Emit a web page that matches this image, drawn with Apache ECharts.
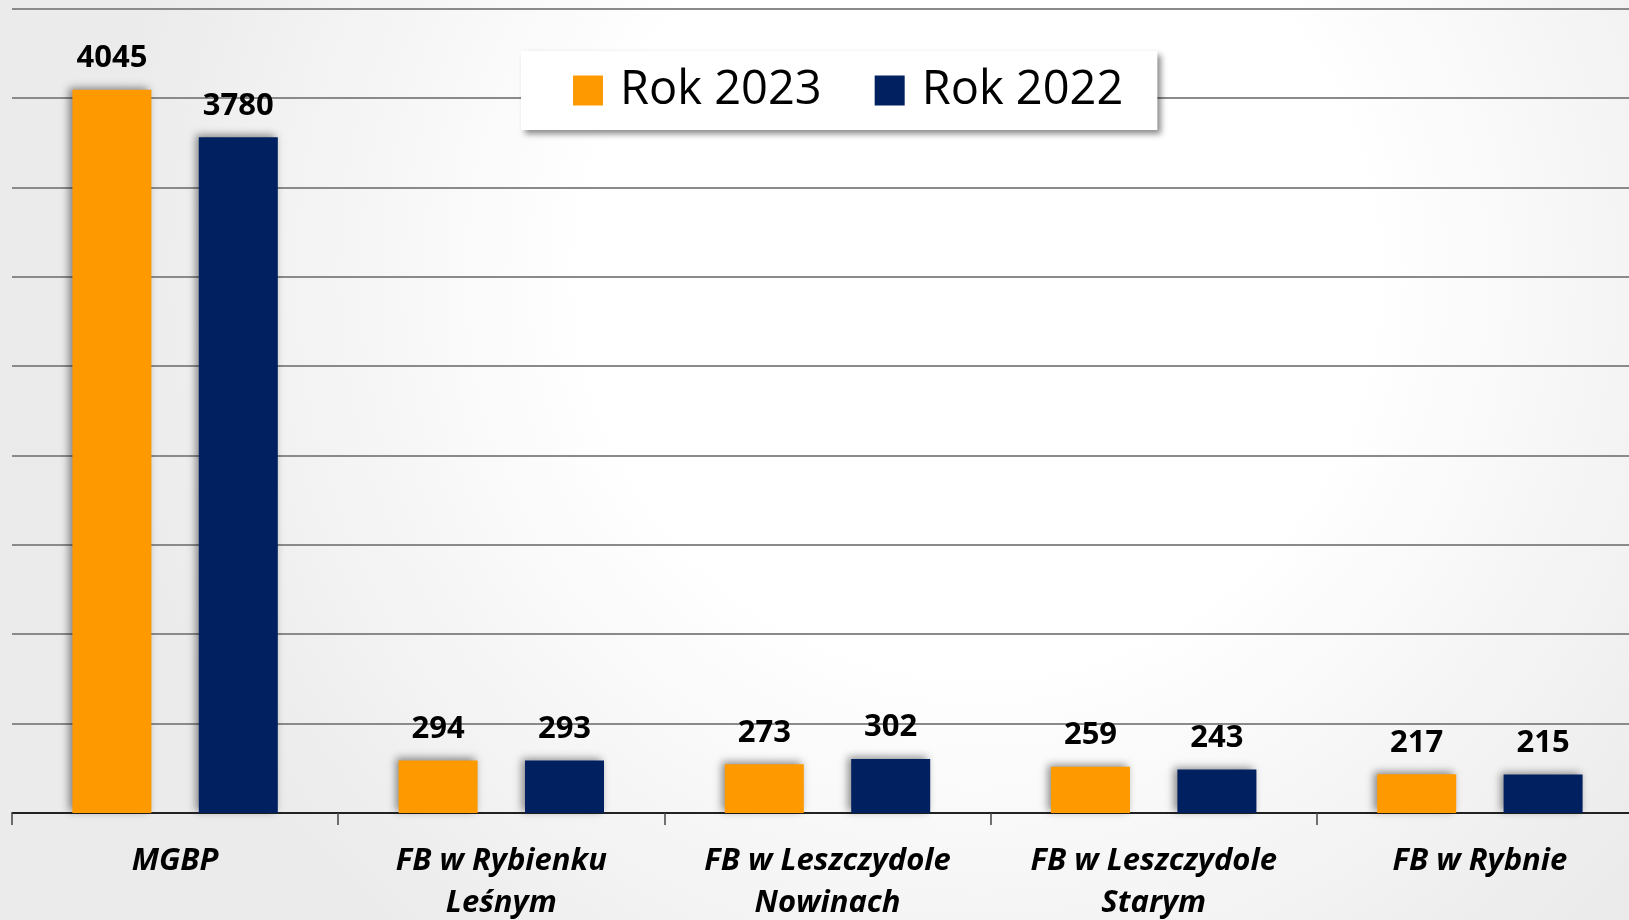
<!DOCTYPE html>
<html>
<head>
<meta charset="utf-8">
<script src="https://cdn.jsdelivr.net/npm/echarts@6/dist/echarts.min.js"></script>
<style>
  html, body { margin: 0; padding: 0; }
  #chart { width: 1629px; height: 920px; }
</style>
</head>
<body>
<div id="chart"></div>
<script>
  // dane
  var categories = ['MGBP', 'FB w Rybienku\nLeśnym', 'FB w Leszczydole\nNowinach', 'FB w Leszczydole\nStarym', 'FB w Rybnie'];
  var rok2023 = [4045, 294, 273, 259, 217];
  var rok2022 = [3780, 293, 302, 243, 215];

  var myChart = echarts.init(document.getElementById('chart'));
  var barShadow = {
    shadowBlur: 8,
    shadowColor: 'rgba(0,0,0,0.45)',
    shadowOffsetX: -3,
    shadowOffsetY: -2
  };
  var valueLabel = {
    show: true,
    position: 'top',
    distance: 16,
    fontFamily: 'Open Sans',
    fontWeight: 'bold',
    fontSize: 31,
    color: '#000'
  };
  var option = {
    backgroundColor: {
      type: 'radial', x: 0.6, y: 0.3, r: 0.95,
      colorStops: [
        { offset: 0.45, color: '#ffffff' },
        { offset: 1, color: '#ebebeb' }
      ]
    },
    legend: {
      data: ['Rok 2023', 'Rok 2022'],
      left: 521,
      top: 51,
      icon: 'rect',
      itemWidth: 30,
      itemHeight: 30,
      itemGap: 53,
      padding: [16, 34, 16, 52],
      backgroundColor: '#fff',
      shadowBlur: 6,
      shadowColor: 'rgba(0,0,0,0.45)',
      shadowOffsetX: 4,
      shadowOffsetY: 4,
      textStyle: {
        fontFamily: 'Open Sans',
        fontSize: 47,
        color: '#000',
        padding: [0, 0, 0, 12]
      }
    },
    grid: {
      left: 12,
      width: 1631,
      top: 8.5,
      bottom: 107,
      containLabel: false,
      outerBoundsMode: 'none'
    },
    xAxis: {
      type: 'category',
      data: categories,
      axisLine: { lineStyle: { color: '#000', width: 1.5 } },
      axisTick: { show: true, length: 12, lineStyle: { color: '#444', width: 1.5 } },
      axisLabel: {
        margin: 27,
        fontFamily: 'Open Sans',
        fontWeight: 'bold',
        fontStyle: 'italic',
        fontSize: 31,
        lineHeight: 42,
        color: '#000',
        interval: 0
      }
    },
    yAxis: {
      type: 'value',
      min: 0,
      max: 4500,
      interval: 500,
      axisLabel: { show: false },
      axisLine: { show: false },
      axisTick: { show: false },
      splitLine: { lineStyle: { color: '#8a8a8a', width: 2 } }
    },
    series: [
      {
        name: 'Rok 2023',
        type: 'bar',
        data: rok2023,
        barWidth: 79,
        barGap: '60%',
        itemStyle: Object.assign({ color: '#ff9900' }, barShadow),
        label: valueLabel
      },
      {
        name: 'Rok 2022',
        type: 'bar',
        data: rok2022,
        barWidth: 79,
        barGap: '60%',
        itemStyle: Object.assign({ color: '#002060' }, barShadow),
        label: valueLabel
      }
    ]
  };
  myChart.setOption(option);
</script>
</body>
</html>
